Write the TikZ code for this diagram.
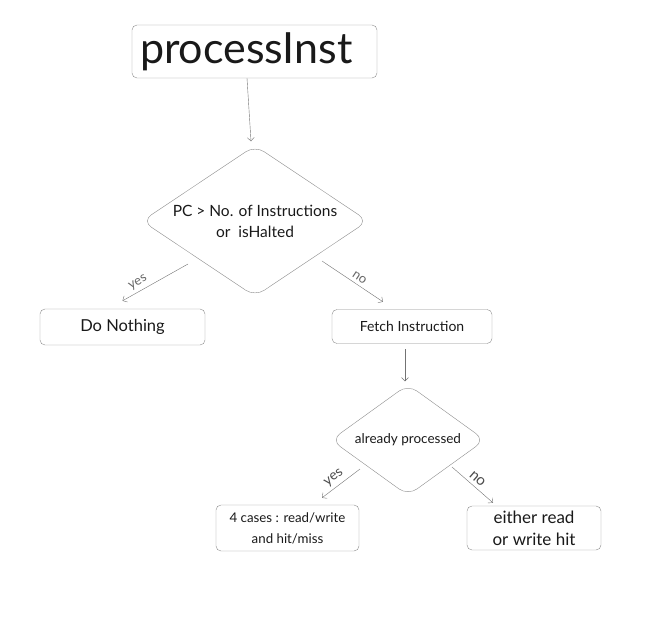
\documentclass[tikz,border=0pt]{standalone}
\usepackage{fontspec}
\setmainfont{Lato}
\usetikzlibrary{shapes.geometric,arrows.meta}

\begin{document}
\begin{tikzpicture}[x=1pt, y=-1pt,
		box/.style={draw=black!45, rounded corners=5pt, thin, text=black!90, inner sep=0pt, align=center},
		decision/.style={diamond, draw=black!45, rounded corners=11pt, thin, text=black!90, inner sep=0pt, shape aspect=1.5, align=center},
		arr/.style={draw=black!55, thin, -{Straight Barb[length=3.5pt, width=7pt]}},
		lbl/.style={text=black!60, sloped, inner sep=3.5pt}]
		\useasboundingbox (0,0) rectangle (658,632);

		\node (title)[box, minimum width=245pt, minimum height=53pt, text width=229pt, align=left, font=\fontsize{43}{46}\selectfont]at (254.5,51.5)  {processInst};
		\node (check)[decision, minimum width=226pt, minimum height=151pt, font=\fontsize{15.5}{21}\selectfont]at (255,221)  {PC > No. of Instructions\\or~~isHalted};
		\node (nothing)[box, minimum width=165pt, minimum height=36pt, font=\fontsize{16.5}{18}\selectfont]at (122.5,327)  {Do Nothing};
		\node (fetch)[box, minimum width=160pt, minimum height=34pt, font=\fontsize{14}{15}\selectfont]at (412,326.5)  {Fetch Instruction};
		\node (done)[decision, minimum width=154pt, minimum height=111pt, font=\fontsize{13.5}{15}\selectfont]at (408,440)  {already processed};
		\node (cases)[box, minimum width=143pt, minimum height=46pt, font=\fontsize{13.3}{21}\selectfont]at (287.5,528)  {4 cases : read/write\\and hit/miss};
		\node (hit)[box, minimum width=134pt, minimum height=44pt, font=\fontsize{17}{22}\selectfont]at (534,528)  {either read\\or write hit};

		\draw [arr]([xshift=-7.5pt]title.south)--([shift={(-4pt,4pt)}]check.north);
		\draw [arr]([shift={(-67pt,-43pt)}]check.center)--([yshift=8pt]nothing.north) node[lbl, above, pos=0.7, font=\fontsize{13}{14}\selectfont]{yes};
		\draw [arr]([shift={(67pt,-40pt)}]check.center)--([shift={(-29pt,7.5pt)}]fetch.north) node[lbl, above, pos=0.55, font=\fontsize{13}{14}\selectfont]{no};
		\draw [arr]([xshift=-7pt, yshift=-5.5pt]fetch.south)--([shift={(-3pt,3pt)}]done.north);
		\draw [arr]([shift={(-48pt,-29pt)}]done.center)--([shift={(34.5pt,7pt)}]cases.north) node[lbl, above, pos=0.55, text=black!70, font=\fontsize{14}{15}\selectfont]{yes};
		\draw [arr]([shift={(44pt,-27pt)}]done.center)--([shift={(-41pt,3pt)}]hit.north) node[lbl, above, pos=0.5, text=black!70, font=\fontsize{15}{16}\selectfont]{no};
	\end{tikzpicture}
\end{document}
